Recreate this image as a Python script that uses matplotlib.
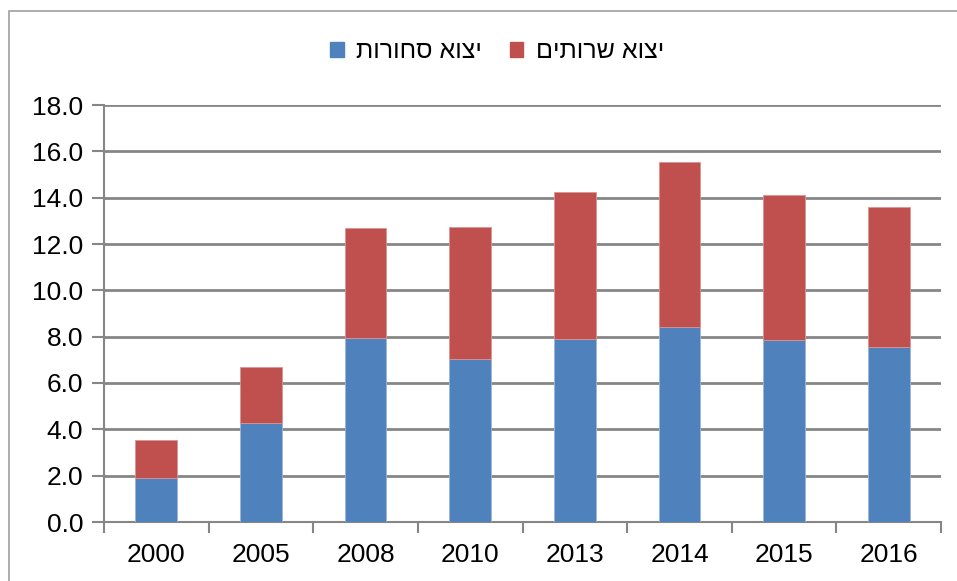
import matplotlib
matplotlib.use("Agg")
import matplotlib.pyplot as plt
from matplotlib.patches import Rectangle, Patch
import numpy as np

plt.rcParams['font.family'] = ['Liberation Sans', 'DejaVu Sans']

years = ["2000", "2005", "2008", "2010", "2013", "2014", "2015", "2016"]
goods = [1.9, 4.27, 7.94, 7.03, 7.9, 8.4, 7.84, 7.54]
totals = [3.54, 6.69, 12.69, 12.73, 14.24, 15.54, 14.11, 13.6]
services = [round(t - g, 2) for t, g in zip(totals, goods)]
label_goods = "יצוא סחורות"
label_services = "יצוא שרותים"
yticks = [0, 2, 4, 6, 8, 10, 12, 14, 16, 18]

def rtl(s):
    return s[::-1]

W, H = 957, 581
fig = plt.figure(figsize=(W / 100, H / 100), dpi=100)
ax = fig.add_axes([104 / W, 1 - 522 / H, (941 - 104) / W, (522 - 105) / H])

blue = "#4F81BD"
red = "#C0504D"
grid = "#868686"

x = np.arange(len(years))
ax.bar(x, goods, width=0.4, color=blue, edgecolor="#9DB7DB", linewidth=0.6, zorder=3)
ax.bar(x, services, bottom=goods, width=0.4, color=red, edgecolor="#D99694", linewidth=0.6, zorder=3)

ax.set_xlim(-0.5, len(years) - 0.5)
ax.set_ylim(0, 18)
ax.set_yticks(yticks)
ax.set_yticklabels([f"{v:.1f}" for v in yticks], fontsize=19)
ax.yaxis.grid(True, color=grid, linewidth=2, zorder=0)
ax.set_axisbelow(True)

ax.set_xticks(x)
ax.set_xticklabels(years, fontsize=19)
ax.tick_params(axis="x", which="major", length=0, pad=15)
ax.set_xticks(np.arange(-0.5, len(years), 1.0), minor=True)
ax.tick_params(axis="x", which="minor", length=8, width=1.5, color=grid, direction="out")
ax.tick_params(axis="y", length=9, width=1.5, color=grid, direction="out", pad=6)

for s in ["top", "right"]:
    ax.spines[s].set_visible(False)
for s in ["left", "bottom"]:
    ax.spines[s].set_color(grid)
    ax.spines[s].set_linewidth(1.5)

handles = [Patch(facecolor=blue, edgecolor=blue), Patch(facecolor=red, edgecolor=red)]
fig.legend(handles, [rtl(label_goods), rtl(label_services)], loc="center",
           bbox_to_anchor=(497 / W, 1 - 51 / H), ncol=2, frameon=False,
           fontsize=18, handlelength=0.55, handleheight=0.55, handletextpad=0.5,
           columnspacing=1.1)

fig.patches.append(Rectangle((9 / W, -0.1), 1.2, 1 - 11 / H + 0.1, transform=fig.transFigure,
                             fill=False, edgecolor="#A0A0A0", linewidth=1.2))

fig.savefig("out.png", dpi=100)
